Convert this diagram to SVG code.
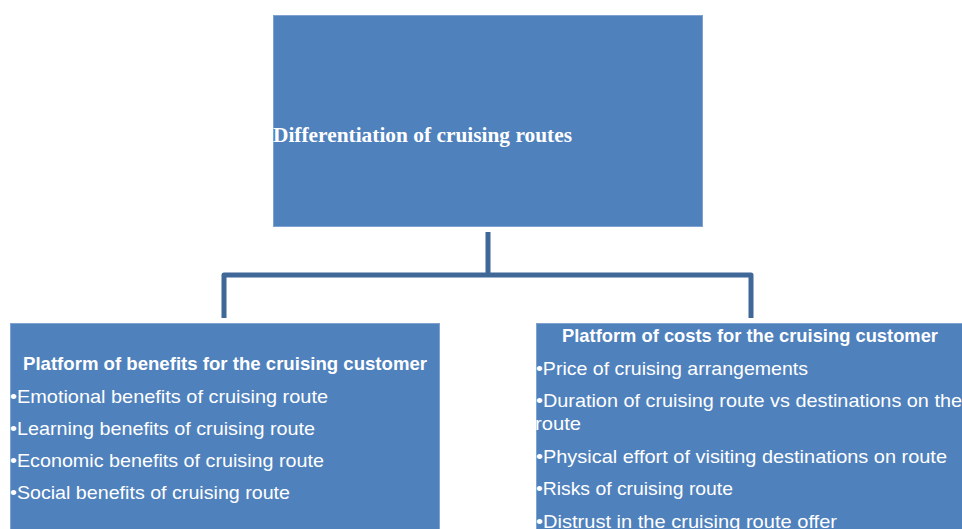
<svg xmlns="http://www.w3.org/2000/svg" width="962" height="529" viewBox="0 0 962 529">
<style>
.box{fill:#4F81BD;stroke:#7FA2D0;stroke-width:1}
.conn{fill:none;stroke:#3F6898;stroke-width:5;stroke-linejoin:round}
.t{fill:#FFFFFF;font-family:"Liberation Sans","Open Sans",Arial,sans-serif;font-size:19px}
.b{font-weight:bold}
.serif{fill:#FFFFFF;font-family:"Liberation Serif","Times New Roman",serif;font-size:21px;font-weight:bold}
</style>
<rect width="962" height="529" fill="#FFFFFF"/>
<g id="connectors">
<path class="conn" d="M488,232 V275"/>
<path class="conn" d="M224,318 V275 H751 V318"/>
</g>
<g id="top">
<rect class="box" x="273.5" y="15.5" width="429" height="211"/>
<text class="serif" x="273" y="142" textLength="299" lengthAdjust="spacingAndGlyphs">Differentiation of cruising routes</text>
</g>
<g id="benefits">
<rect class="box" x="10.5" y="323.5" width="429" height="215"/>
<text class="t b" x="23" y="370" textLength="404" lengthAdjust="spacingAndGlyphs">Platform of benefits for the cruising customer</text>
<text class="t" x="10" y="403" textLength="318" lengthAdjust="spacingAndGlyphs">•Emotional benefits of cruising route</text>
<text class="t" x="10" y="435" textLength="305" lengthAdjust="spacingAndGlyphs">•Learning benefits of cruising route</text>
<text class="t" x="10" y="467" textLength="314" lengthAdjust="spacingAndGlyphs">•Economic benefits of cruising route</text>
<text class="t" x="10" y="499" textLength="280" lengthAdjust="spacingAndGlyphs">•Social benefits of cruising route</text>
</g>
<g id="costs">
<rect class="box" x="536.5" y="323.5" width="440" height="215"/>
<text class="t b" x="562" y="342" textLength="376" lengthAdjust="spacingAndGlyphs">Platform of costs for the cruising customer</text>
<text class="t" x="536" y="375" textLength="272" lengthAdjust="spacingAndGlyphs">•Price of cruising arrangements</text>
<text class="t" x="536" y="407" textLength="426" lengthAdjust="spacingAndGlyphs">•Duration of cruising route vs destinations on the</text>
<text class="t" x="535" y="430" textLength="46" lengthAdjust="spacingAndGlyphs">route</text>
<text class="t" x="536" y="463" textLength="411" lengthAdjust="spacingAndGlyphs">•Physical effort of visiting destinations on route</text>
<text class="t" x="536" y="495" textLength="197" lengthAdjust="spacingAndGlyphs">•Risks of cruising route</text>
<text class="t" x="536" y="528" textLength="301" lengthAdjust="spacingAndGlyphs">•Distrust in the cruising route offer</text>
</g>
</svg>
